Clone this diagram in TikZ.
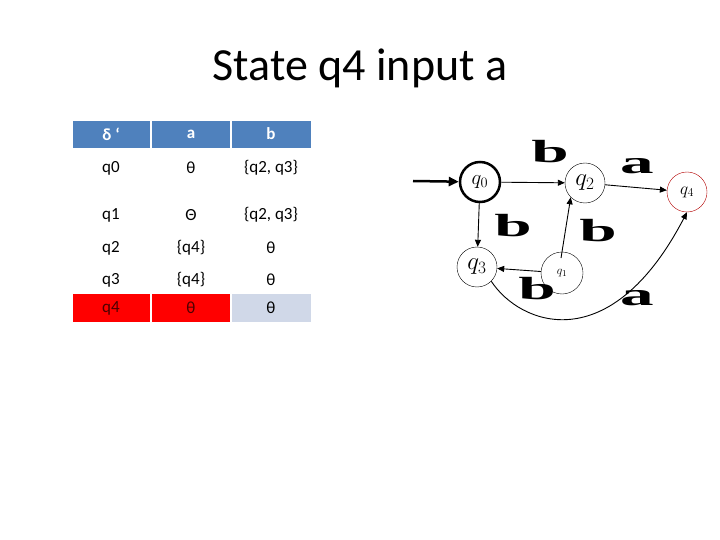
\documentclass[tikz,border=0pt]{standalone}
\usepackage{fontspec}
\setmainfont{Carlito}
\newfontfamily\lbl{Liberation Serif}
\usetikzlibrary{arrows.meta}
\definecolor{hdr}{HTML}{4F81BD}
\definecolor{lite}{HTML}{D0D8E8}
\begin{document}
\begin{tikzpicture}[x=1pt,y=-1pt,
  cell/.style={font=\fontsize{17}{19}\selectfont},
  hcell/.style={white,font=\bfseries\fontsize{17}{19}\selectfont},
  st/.style={draw,circle,minimum size=40pt,inner sep=0pt},
  big/.style={font=\lbl\bfseries\fontsize{32}{32}\selectfont,xscale=2.1,inner sep=0pt},
  edge/.style={-{Triangle[length=7pt,width=6pt]},line width=0.9pt}]
\useasboundingbox (0,0) rectangle (720,540);
\node[font=\fontsize{46}{50}\selectfont] (title) at (360,68) {State q4 input a};
% table
\fill[hdr] (73,121) rectangle (150,148);
\fill[hdr] (152,121) rectangle (230,148);
\fill[hdr] (232,121) rectangle (311,148);
\fill[red] (73,294) rectangle (150,322);
\fill[red] (152,294) rectangle (230,322);
\fill[lite] (232,294) rectangle (311,322);
\node[hcell] (h1) at (111,134) {δ ʻ};
\node[hcell] (h2) at (191,134) {a};
\node[hcell] (h3) at (271,134) {b};
\node[cell] (r0a) at (111,168) {q0}; \node[cell] (r0b) at (191,168) {θ}; \node[cell] (r0c) at (271,168) {\{q2, q3\}};
\node[cell] (r1a) at (111,215) {q1}; \node[cell] (r1b) at (191,215) {Θ}; \node[cell] (r1c) at (271,215) {\{q2, q3\}};
\node[cell] (r2a) at (111,248) {q2}; \node[cell] (r2b) at (191,248) {\{q4\}}; \node[cell] (r2c) at (271,248) {θ};
\node[cell] (r3a) at (111,280) {q3}; \node[cell] (r3b) at (191,280) {\{q4\}}; \node[cell] (r3c) at (271,280) {θ};
\node[cell,text=black!70!red] (r4a) at (111,308) {q4}; \node[cell,text=black!70!red] (r4b) at (191,308) {θ}; \node[cell] (r4c) at (271,308) {θ};
% automaton
\node[st,line width=2.5pt] (q0) at (480,182) {\fontsize{22}{22}\selectfont$q_0$};
\node[st] (q2) at (585,183) {\fontsize{26}{26}\selectfont$q_2$};
\node[st,draw=red!70!black] (q4) at (687,192) {\fontsize{18}{18}\selectfont$q_4$};
\node[st] (q3) at (477,267) {\fontsize{26}{26}\selectfont$q_3$};
\node[st,minimum size=42pt] (q1) at (562,273) {\fontsize{13}{13}\selectfont$q_1$};
\coordinate (s) at (413,181);
\draw[edge,line width=2.5pt,-{Triangle[length=10pt,width=9pt]}] (s) -- (q0);
\draw[edge] (q0) -- (q2);
\draw[edge] (q2) -- (q4);
\draw[edge] (q0) -- (q3);
\draw[edge] (q1) -- (q3);
\draw[edge] (q1.north west) ++(14,0) coordinate (q1t) -- (q2.south west);
\draw[edge] (q3.south east) .. controls (520,325) and (610,360) .. (q4.south);
\node[big] (lb1) at (550,152) {b};
\node[big] (la1) at (637,166) {a};
\node[big] (lb2) at (513,226) {b};
\node[big] (lb3) at (598,231) {b};
\node[big] (lb4) at (537,289) {b};
\node[big] (la2) at (637,298) {a};
\end{tikzpicture}
\end{document}
